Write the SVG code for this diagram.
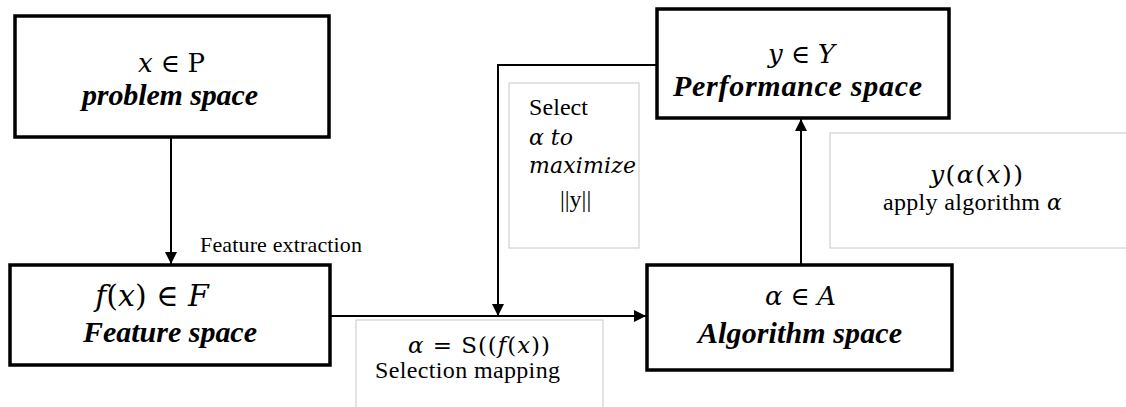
<svg xmlns="http://www.w3.org/2000/svg" width="1126" height="407" viewBox="0 0 1126 407">
<style>
.box{fill:#fff;stroke:#000;stroke-width:3.5}
.lbl{fill:#fff;stroke:#c8c8c8;stroke-width:1}
.con{fill:none;stroke:#000;stroke-width:2}
.m{font-family:"DejaVu Serif",serif;font-size:26px;fill:#000}
.dm{font-family:"DejaVu Serif",serif;fill:#000}
.mi{font-style:italic}
.t{font-family:"Liberation Serif",serif;font-size:30px;font-weight:bold;font-style:italic;fill:#000}
.s{font-family:"Liberation Serif",serif;font-size:24px;fill:#000}
</style>
<defs>
<marker id="ah" viewBox="0 0 10 10" refX="10" refY="5" markerWidth="6" markerHeight="6" markerUnits="strokeWidth" orient="auto">
<path d="M0,0 L10,5 L0,10 z" fill="#000"/>
</marker>
</defs>
<g id="labels">
<rect class="lbl" x="509" y="83" width="130" height="165"/>
<rect class="lbl" x="830" y="133" width="300" height="115"/>
<rect class="lbl" x="356" y="320" width="247" height="95"/>
</g>
<g id="connectors">
<path class="con" d="M171,137 V264" marker-end="url(#ah)"/>
<path class="con" d="M330,316 H646" marker-end="url(#ah)"/>
<path class="con" d="M657,65 H498 V316" marker-end="url(#ah)"/>
<path class="con" d="M801,265 V119" marker-end="url(#ah)"/>
</g>
<g id="problem">
<rect class="box" x="15" y="16" width="314" height="121"/>
<text class="m" x="138" y="72" textLength="67"><tspan class="mi">x</tspan> ∈ P</text>
<text class="t" x="82" y="105" textLength="176">problem space</text>
</g>
<g id="performance">
<rect class="box" x="657" y="9" width="292" height="109"/>
<text class="m" x="768" y="63" textLength="67"><tspan class="mi">y</tspan> ∈ <tspan class="mi">Y</tspan></text>
<text class="t" x="673" y="96" textLength="249">Performance space</text>
</g>
<g id="feature">
<rect class="box" x="10" y="265" width="320" height="100"/>
<text class="m" x="152" y="306" text-anchor="middle" style="font-size:30px"><tspan class="mi">f</tspan>(<tspan class="mi">x</tspan>) ∈ <tspan class="mi">F</tspan></text>
<text class="t" x="83" y="342" textLength="174">Feature space</text>
</g>
<g id="algorithm">
<rect class="box" x="647" y="265" width="305" height="105"/>
<text class="m" x="765" y="305" textLength="71"><tspan class="mi">α</tspan> ∈ <tspan class="mi">A</tspan></text>
<text class="t" x="698" y="343" textLength="204">Algorithm space</text>
</g>
<g id="texts">
<text class="s" x="200" y="252" textLength="162" style="font-size:22px">Feature extraction</text>
<text class="s" x="529" y="115" textLength="59">Select</text>
<text class="dm mi" x="529" y="145" style="font-size:22px">α to</text>
<text class="dm mi" x="529" y="173" textLength="107" style="font-size:22px">maximize</text>
<text class="s" x="560" y="207">||y||</text>
<text class="dm" x="930" y="183" textLength="93" style="font-size:25px"><tspan class="mi">y</tspan>(<tspan class="mi">α</tspan>(<tspan class="mi">x</tspan>))</text>
<text class="s" x="883" y="210" textLength="157">apply algorithm</text>
<text class="dm mi" x="1047" y="210" style="font-size:22px">α</text>
<text class="dm" x="408" y="353" textLength="142" style="font-size:23px"><tspan class="mi">α</tspan> = S((<tspan class="mi">f</tspan>(<tspan class="mi">x</tspan>))</text>
<text class="s" x="375" y="378" textLength="185">Selection mapping</text>
</g>
</svg>
